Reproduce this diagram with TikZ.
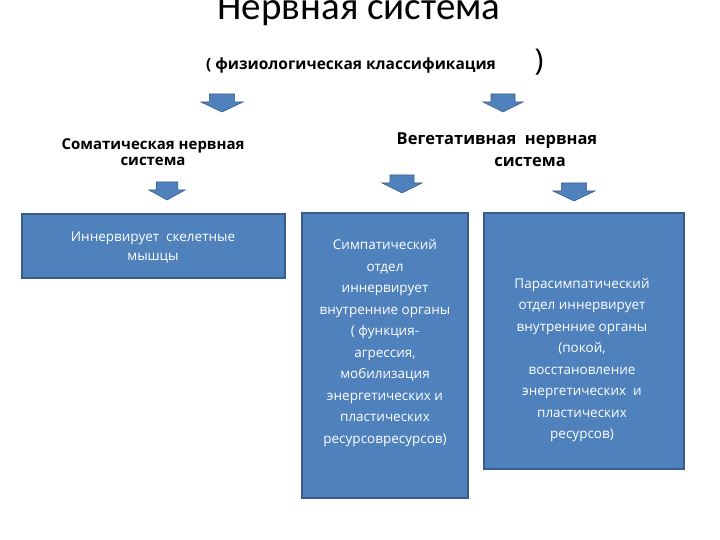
\documentclass[tikz,border=0pt]{standalone}
\usepackage{fontspec}
\setmainfont{Open Sans}
\newfontfamily\calfont{Carlito}
\definecolor{bfill}{HTML}{4F81BD}
\definecolor{bdraw}{HTML}{385D8A}
\begin{document}
\begin{tikzpicture}[x=1pt,y=-1pt,
  box/.style={draw=bdraw,fill=bfill,line width=1.2pt,text=white,inner sep=0pt},
  txt/.style={align=center,font=\fontsize{13.5}{21.5}\selectfont,text=white}]
\useasboundingbox (0,0) rectangle (720,540);
\newcommand\barrow[3]{% x center, top y, width
  \fill[bfill,draw=bdraw,line width=0.6pt] ({#1-0.3*#3},#2) -- ({#1+0.3*#3},#2) -- ({#1+0.3*#3},{#2+8}) -- ({#1+0.5*#3},{#2+8}) -- (#1,{#2+18}) -- ({#1-0.5*#3},{#2+8}) -- ({#1-0.3*#3},{#2+8}) -- cycle;}
\node[font=\calfont\fontsize{39}{40}\selectfont] (t) at (359,10) {Нервная система};
\node[font=\fontsize{15.5}{18}\selectfont\bfseries] (st) at (351,65) {( физиологическая классификация};
\node[font=\fontsize{30}{32}\selectfont] (br) at (539,62) {)};
\barrow{222}{94}{42}
\barrow{503}{94}{40}
\node[align=center,font=\fontsize{15}{16}\selectfont\bfseries] (s) at (153,152) {Соматическая нервная\\ система};
\node[align=center,font=\fontsize{16.5}{22}\selectfont\bfseries] (v) at (497,150) {Вегетативная\ \ нервная\\\hspace*{4em}система};
\barrow{167}{182}{36}
\barrow{402}{175}{40}
\barrow{574}{183}{42}
\draw[box] (22,214) rectangle (285,278);
\draw[box] (302,213) rectangle (468,498);
\draw[box] (484,213) rectangle (684,469);
\node[txt,font=\fontsize{13.5}{19}\selectfont] (a) at (153,247) {Иннервирует\ \ скелетные\\ мышцы};
\node[txt] (b) at (385,343) {Симпатический\\ отдел\\ иннервирует\\ внутренние органы\\ ( функция-\\ агрессия,\\ мобилизация\\ энергетических и\\ пластических\\ ресурсовресурсов)};
\node[txt] (c) at (582,360) {Парасимпатический\\ отдел иннервирует\\ внутренние органы\\ (покой,\\ восстановление\\ энергетических\ \ и\\ пластических\\ ресурсов)};
\end{tikzpicture}
\end{document}
